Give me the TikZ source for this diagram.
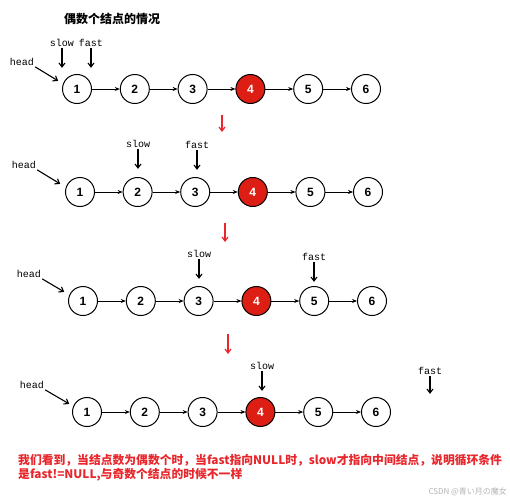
\documentclass[tikz,border=0pt]{standalone}
\usepackage{fontspec}
\setmonofont{Liberation Mono}
\newfontfamily\cjk{Noto Sans CJK SC}
\newfontfamily\numfont{Liberation Sans}
\usetikzlibrary{arrows.meta}
\definecolor{nodered}{HTML}{DD1E14}
\definecolor{txtred}{HTML}{E8262B}
\tikzset{
  lnode/.style={circle,draw,line width=1pt,minimum size=29pt,inner sep=0pt,font=\numfont\bfseries\fontsize{12}{12}\selectfont},
  rnode/.style={lnode,fill=nodered,text=white},
  link/.style={line width=0.7pt,-{Stealth[length=5pt,width=4pt]}},
  ptr/.style={line width=1.1pt,-{Straight Barb[length=4pt,width=6pt]}},
  step arrow/.style={txtred,line width=1.2pt,-{Straight Barb[length=4pt,width=6pt]}},
  lbl/.style={inner sep=1pt,font=\ttfamily\fontsize{10}{10}\selectfont}
}
\begin{document}
\begin{tikzpicture}[x=1pt,y=-1pt]
\useasboundingbox (0,0) rectangle (510,500);
\node (title) at (112,19) {\cjk\bfseries\fontsize{12}{12}\selectfont 偶数个结点的情况};

% row A: slow and fast at the start
\foreach \i/\s in {1/lnode,2/lnode,3/lnode,4/rnode,5/lnode,6/lnode}
  \node[\s] (a\i) at ({77+(\i-1)*57.8},89) {\i};
\foreach \i/\j in {1/2,2/3,3/4,4/5,5/6}
  \draw[link] (a\i) -- (a\j);
\node[lbl] (slowA) at (62,43) {slow};
\node[lbl] (fastA) at (91,43) {fast};
\node[lbl] (headA) at (22,62) {head};
\draw[ptr] (slowA.south) -- ++(0,20);
\draw[ptr] (fastA.south) -- ++(0,20);
\draw[ptr] (headA.south east) -- ++(23,14);
\coordinate (dA) at (222,115);
\draw[step arrow] (dA) -- ++(0,17);

% row B
\foreach \i/\s in {1/lnode,2/lnode,3/lnode,4/rnode,5/lnode,6/lnode}
  \node[\s] (b\i) at ({80+(\i-1)*57.6},192) {\i};
\foreach \i/\j in {1/2,2/3,3/4,4/5,5/6}
  \draw[link] (b\i) -- (b\j);
\node[lbl] (slowB) at (138,144) {slow};
\node[lbl] (fastB) at (197,145) {fast};
\node[lbl] (headB) at (24,165) {head};
\draw[ptr] (slowB.south) -- ++(0,20);
\draw[ptr] (fastB.south) -- ++(0,20);
\draw[ptr] (headB.south east) -- ++(23,14);
\coordinate (dB) at (225,223);
\draw[step arrow] (dB) -- ++(0,19);

% row C
\foreach \i/\s in {1/lnode,2/lnode,3/lnode,4/rnode,5/lnode,6/lnode}
  \node[\s] (c\i) at ({83+(\i-1)*57.8},301) {\i};
\foreach \i/\j in {1/2,2/3,3/4,4/5,5/6}
  \draw[link] (c\i) -- (c\j);
\node[lbl] (slowC) at (199,254) {slow};
\node[lbl] (fastC) at (314,257) {fast};
\node[lbl] (headC) at (29,274) {head};
\draw[ptr] (slowC.south) -- ++(0,20);
\draw[ptr] (fastC.south) -- ++(0,20);
\draw[ptr] (headC.south east) -- ++(22,13);
\coordinate (dC) at (228,334);
\draw[step arrow] (dC) -- ++(0,20);

% row D: fast has run off the list
\foreach \i/\s in {1/lnode,2/lnode,3/lnode,4/rnode,5/lnode,6/lnode}
  \node[\s] (d\i) at ({87+(\i-1)*57.8},412) {\i};
\foreach \i/\j in {1/2,2/3,3/4,4/5,5/6}
  \draw[link] (d\i) -- (d\j);
\node[lbl] (slowD) at (262,366) {slow};
\node[lbl] (fastD) at (430,371) {fast};
\node[lbl] (headD) at (32,385) {head};
\draw[ptr] (slowD.south) -- ++(0,20);
\draw[ptr] (fastD.south) -- ++(0,18);
\draw[ptr] (headD.south east) -- ++(24,14);

\node[anchor=north west,align=left,inner sep=0pt,text=txtred,font=\cjk\bfseries\fontsize{11.8}{14.5}\selectfont] (note) at (18,454)
  {我们看到，当结点数为偶数个时，当fast指向NULL时，slow才指向中间结点，说明循环条件\\是fast!=NULL,与奇数个结点的时候不一样};
\node[anchor=east,inner sep=0pt,text=black!30,font=\cjk\fontsize{8}{8}\selectfont] (mark) at (507,492) {CSDN @青い月の魔女};
\end{tikzpicture}
\end{document}
